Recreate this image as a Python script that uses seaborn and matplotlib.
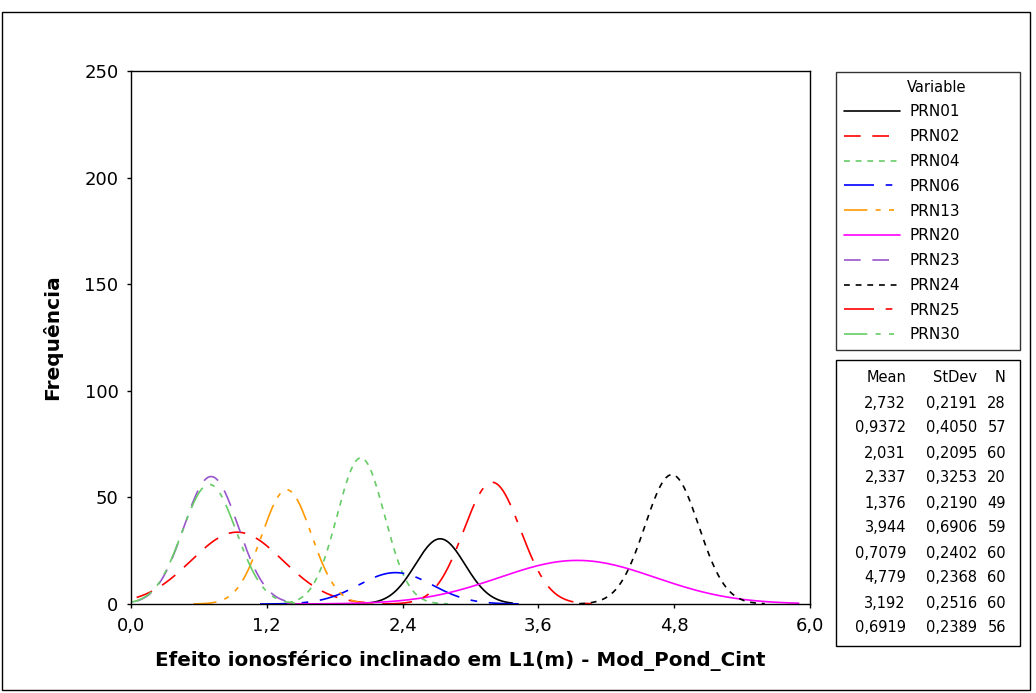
import numpy as np
import pandas as pd
import matplotlib
matplotlib.use("Agg")
import matplotlib.pyplot as plt
import matplotlib.patches as patches
from matplotlib.ticker import FuncFormatter
import seaborn as sns

# Fitted normal curves (Minitab-style histogram fit, bin width 0.6)
variables = ["PRN01", "PRN02", "PRN04", "PRN06", "PRN13",
             "PRN20", "PRN23", "PRN24", "PRN25", "PRN30"]
means = [2.732, 0.9372, 2.031, 2.337, 1.376, 3.944, 0.7079, 4.779, 3.192, 0.6919]
stdevs = [0.2191, 0.4050, 0.2095, 0.3253, 0.2190, 0.6906, 0.2402, 0.2368, 0.2516, 0.2389]
counts = [28, 57, 60, 20, 49, 59, 60, 60, 60, 56]
mean_txt = ["2,732", "0,9372", "2,031", "2,337", "1,376", "3,944", "0,7079", "4,779", "3,192", "0,6919"]
sd_txt = ["0,2191", "0,4050", "0,2095", "0,3253", "0,2190", "0,6906", "0,2402", "0,2368", "0,2516", "0,2389"]
# x range of each fitted curve
x_lo = [2.05, 0.05, 1.38, 1.14, 0.55, 1.38, 0.05, 3.96, 2.22, 0.0]
x_hi = [3.37, 2.10, 2.80, 3.50, 2.14, 5.90, 1.38, 5.60, 4.10, 1.45]
bin_width = 0.6

colors = {"PRN01": "black", "PRN02": "#FF0000", "PRN04": "#66CC66", "PRN06": "#0000FF",
          "PRN13": "#FF9900", "PRN20": "#FF00FF", "PRN23": "#9955CC", "PRN24": "black",
          "PRN25": "#FF0000", "PRN30": "#66CC66"}
dashes = {"PRN01": "", "PRN02": (10, 7), "PRN04": (3.5, 3.5), "PRN06": (18, 7, 4, 7),
          "PRN13": (14, 5, 3, 5, 3, 5), "PRN20": "", "PRN23": (10, 7), "PRN24": (3.5, 3.5),
          "PRN25": (18, 7, 4, 7), "PRN30": (14, 5, 3, 5, 3, 5)}

rows = []
for v, m, s, n, lo, hi in zip(variables, means, stdevs, counts, x_lo, x_hi):
    x = np.linspace(lo, hi, 200)
    y = n * bin_width * np.exp(-0.5 * ((x - m) / s) ** 2) / (s * np.sqrt(2 * np.pi))
    rows.append(pd.DataFrame({"x": x, "y": y, "Variable": v}))
df = pd.concat(rows, ignore_index=True)

sns.set_style("white")
plt.rcParams["font.family"] = ["DejaVu Sans"]
plt.rcParams["text.color"] = "black"
plt.rcParams["axes.labelcolor"] = "black"

W, H = 1036, 693
fig = plt.figure(figsize=(W / 100, H / 100), dpi=100)
ax = fig.add_axes([131 / W, 1 - 604 / H, (810 - 131) / W, (604 - 71) / H])

sns.lineplot(data=df, x="x", y="y", hue="Variable", style="Variable",
             palette=colors, dashes=dashes, linewidth=1.2, ax=ax, sort=False)

ax.set_xlim(0, 6)
ax.set_ylim(0, 250)
ax.set_xticks([0, 1.2, 2.4, 3.6, 4.8, 6.0])
ax.set_yticks([0, 50, 100, 150, 200, 250])
ax.xaxis.set_major_formatter(FuncFormatter(lambda v, p: f"{v:.1f}".replace(".", ",")))
ax.tick_params(axis="both", direction="out", length=3, width=1, labelsize=13,
               bottom=True, left=True, colors="black")
ax.tick_params(axis="x", pad=6.5)
ax.tick_params(axis="y", pad=6)
for sp in ax.spines.values():
    sp.set_color("black")
    sp.set_linewidth(1)
ax.set_xlabel("Efeito ionosférico inclinado em L1(m) - Mod_Pond_Cint",
              fontsize=14.3, fontweight="bold")
ax.xaxis.set_label_coords((460 - 131) / 679, (604 - 650) / 533)
ax.set_ylabel("Frequência", fontsize=14.5, fontweight="bold")
ax.yaxis.set_label_coords((62 - 131) / 679, 0.5)

sns.move_legend(ax, loc="upper left",
                bbox_to_anchor=(836 / W, 1 - 352 / H, 184 / W, 280 / H),
                bbox_transform=fig.transFigure, mode="expand",
                frameon=True, fancybox=False, fontsize=11, title=" ",
                title_fontsize=11, handlelength=3.7, labelspacing=0.64,
                borderpad=0.5, handletextpad=0.6, borderaxespad=0)
leg = ax.get_legend()
leg.get_frame().set_edgecolor("black")
leg.get_frame().set_linewidth(1)
for h in leg.get_lines():
    h.set_linewidth(1.2)
fig.text(907 / W, 1 - 87 / H, "Variable", ha="left", va="center", fontsize=10.5)

# statistics box
fig.patches.append(patches.Rectangle((836 / W, 1 - 646 / H), 184 / W, 286 / H,
                                     transform=fig.transFigure, fill=False,
                                     edgecolor="black", linewidth=1))
col_x = [906, 977, 1006]
for cx, head in zip(col_x, ["Mean", "StDev", "N"]):
    fig.text(cx / W, 1 - 378 / H, head, ha="right", va="center", fontsize=10.5)
for i, (mt, st, n) in enumerate(zip(mean_txt, sd_txt, counts)):
    yy = 1 - (403 + i * 25) / H
    fig.text(col_x[0] / W, yy, mt, ha="right", va="center", fontsize=10.5)
    fig.text(col_x[1] / W, yy, st, ha="right", va="center", fontsize=10.5)
    fig.text(col_x[2] / W, yy, str(n), ha="right", va="center", fontsize=10.5)

# outer frame
fig.patches.append(patches.Rectangle((2 / W, 3 / H), 1028 / W, 678 / H,
                                     transform=fig.transFigure, fill=False,
                                     edgecolor="black", linewidth=1))

fig.savefig("out.png", dpi=100)
